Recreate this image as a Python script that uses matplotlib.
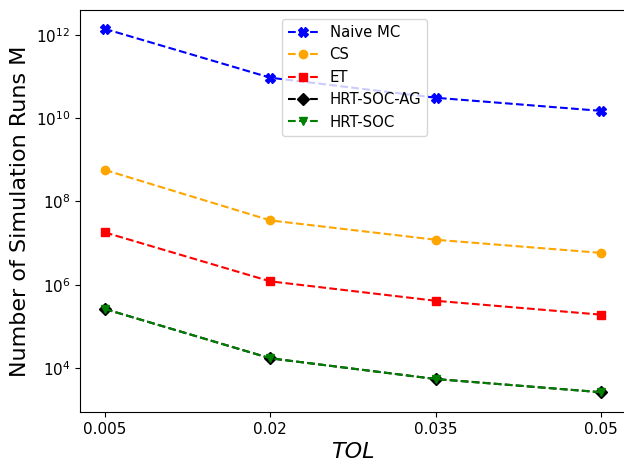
import matplotlib
matplotlib.use("Agg")
import matplotlib.pyplot as plt

tol = [0.005, 0.02, 0.035, 0.05]
naive_mc = [1.4e12, 9.4e10, 3.1e10, 1.5e10]
cs = [5.7e8, 3.5e7, 1.2e7, 5.8e6]
et = [1.8e7, 1.2e6, 4.1e5, 1.9e5]
hrt_soc_ag = [2.6e5, 1.7e4, 5.4e3, 2.6e3]
hrt_soc = [2.6e5, 1.7e4, 5.4e3, 2.6e3]
xtick_labels = ["0.005", "0.02", "0.035", "0.05"]

fig = plt.figure(figsize=(6.24, 4.61), dpi=100)
ax = fig.add_axes([80/624, 49/461, 546/624, 402/461])

ax.plot(tol, naive_mc, linestyle='--', color='blue', marker='X', markersize=7, label='Naive MC')
ax.plot(tol, cs, linestyle='--', color='orange', marker='o', markersize=6, label='CS')
ax.plot(tol, et, linestyle='--', color='red', marker='s', markersize=6, label='ET')
ax.plot(tol, hrt_soc_ag, linestyle='--', color='black', marker='D', markersize=6, label='HRT-SOC-AG')
ax.plot(tol, hrt_soc, linestyle='--', color='green', marker='v', markersize=6, label='HRT-SOC')

ax.set_yscale('log')
ax.set_ylim(10**2.94, 10**12.6)
ax.set_xlim(0.005 - 0.00226, 0.05 + 0.00226)
ax.set_xticks(tol)
ax.set_xticklabels(xtick_labels)
ax.set_yticks([1e4, 1e6, 1e8, 1e10, 1e12])
ax.minorticks_off()
ax.tick_params(labelsize=11)
ax.set_xlabel('TOL', fontsize=16, fontstyle='italic')
ax.set_ylabel('Number of Simulation Runs M', fontsize=16)
ax.spines['right'].set_visible(False)

ax.legend(loc='upper left', bbox_to_anchor=((282 - 80) / 546, 1 - 9 / 402),
          borderaxespad=0, fontsize=10.7)

fig.savefig('out.png', dpi=100)
